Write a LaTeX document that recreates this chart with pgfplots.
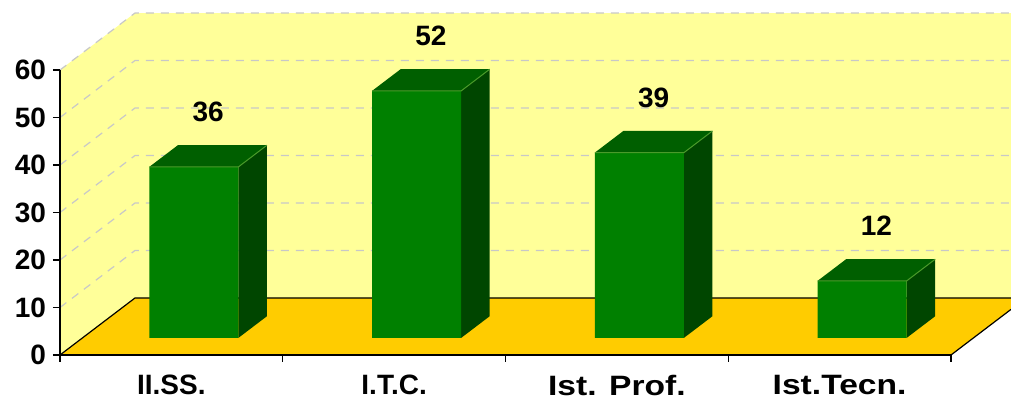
\documentclass[border=0pt]{standalone}
\usepackage{fontspec}
\setmainfont{Liberation Sans}
\usepackage{graphicx}
\usepackage{pgfplots}
\usepackage{pgfplotstable}
\pgfplotsset{compat=1.18}
\definecolor{wallc}{HTML}{FFFF99}
\definecolor{floorc}{HTML}{FFCC00}
\definecolor{barfront}{HTML}{008000}
\definecolor{bartop}{HTML}{005F00}
\definecolor{barside}{HTML}{004600}
\definecolor{barhi}{HTML}{4A9A2A}
\definecolor{gridc}{HTML}{C8C8C8}

\pgfplotstableread{
idx value
0 36
1 52
2 39
3 12
}\data

% depth offsets (category units, value units)
\def\fdx{0.101}\def\fdy{3.6}
\def\bdx{0.229}\def\bdy{8.16}

\newcommand\barfaces[1]{%
  \pgfplotstablegetelem{#1}{value}\of\data
  \pgfmathsetmacro\bval{\pgfplotsretval}%
  \pgfmathsetmacro\bxa{#1+0.3+\fdx}%
  \pgfmathsetmacro\bxb{#1+0.7+\fdx}%
  \pgfmathsetmacro\bxc{#1+0.3+\bdx}%
  \pgfmathsetmacro\bxd{#1+0.7+\bdx}%
  \pgfmathsetmacro\bya{\fdy}%
  \pgfmathsetmacro\byb{\bval+\fdy}%
  \pgfmathsetmacro\byc{\bdy}%
  \pgfmathsetmacro\byd{\bval+\bdy}%
  \edef\temp{%
    \noexpand\addplot[draw=none, fill=barside] coordinates {(\bxb,\bya) (\bxd,\byc) (\bxd,\byd) (\bxb,\byb) (\bxb,\bya)};
    \noexpand\addplot[draw=none, fill=bartop] coordinates {(\bxa,\byb) (\bxb,\byb) (\bxd,\byd) (\bxc,\byd) (\bxa,\byb)};
    \noexpand\addplot[draw=none, fill=barfront] coordinates {(\bxa,\bya) (\bxb,\bya) (\bxb,\byb) (\bxa,\byb) (\bxa,\bya)};
    \noexpand\addplot[barhi, line width=0.5pt] coordinates {(\bxa,\byb) (\bxb,\byb) (\bxd,\byd)};
  }%
  \temp
}

\begin{document}
\begin{tikzpicture}
\begin{axis}[
  scale only axis,
  width=445.5pt, height=142.5pt,
  xmin=0, xmax=4, ymin=0, ymax=60,
  clip=false,
  axis on top,
  axis lines*=left,
  axis line style={black, line width=0.6pt},
  tick align=outside,
  tick style={black, line width=0.6pt},
  major tick length=3.5pt,
  ytick={0,10,...,60},
  xtick={0,1,2,3,4},
  xticklabels={},
  extra x ticks={0.5,1.5,2.5,3.5},
  extra x tick labels={II.SS., I.T.C., \scalebox{1.2}[1]{Ist. Prof.}, \scalebox{1.2}[1]{Ist.Tecn.}},
  extra x tick style={major tick length=0pt, xticklabel style={yshift=-6.5pt}},
  xticklabel style={font=\bfseries\fontsize{14}{14}\selectfont},
  yticklabel style={font=\bfseries\fontsize{14}{14}\selectfont},
  /pgf/number format/assume math mode=true,
]
% walls and floor
\fill[wallc] (axis cs:0,0) -- (axis cs:0.3367,12) -- (axis cs:0.3367,72) -- (axis cs:0,60) -- cycle;
\fill[wallc] (axis cs:0.3367,12) -- (axis cs:4.2694,12) -- (axis cs:4.2694,72) -- (axis cs:0.3367,72) -- cycle;
\fill[floorc] (axis cs:0,0) -- (axis cs:4,0) -- (axis cs:4.2694,9.6) -- (axis cs:4.2694,12) -- (axis cs:0.3367,12) -- cycle;
\draw[black, line width=0.6pt] (axis cs:0,0) -- (axis cs:0.3367,12) -- (axis cs:4.2694,12);
\draw[black, line width=0.6pt] (axis cs:4,0) -- (axis cs:4.2694,9.6);
% gridlines
\draw[gridc, line width=0.6pt, dash pattern=on 4pt off 3.5pt] (axis cs:0,10) -- (axis cs:0.3367,22) -- (axis cs:4.2694,22);
\draw[gridc, line width=0.6pt, dash pattern=on 4pt off 3.5pt] (axis cs:0,20) -- (axis cs:0.3367,32) -- (axis cs:4.2694,32);
\draw[gridc, line width=0.6pt, dash pattern=on 4pt off 3.5pt] (axis cs:0,30) -- (axis cs:0.3367,42) -- (axis cs:4.2694,42);
\draw[gridc, line width=0.6pt, dash pattern=on 4pt off 3.5pt] (axis cs:0,40) -- (axis cs:0.3367,52) -- (axis cs:4.2694,52);
\draw[gridc, line width=0.6pt, dash pattern=on 4pt off 3.5pt] (axis cs:0,50) -- (axis cs:0.3367,62) -- (axis cs:4.2694,62);
\draw[gridc, line width=0.6pt, dash pattern=on 4pt off 3.5pt] (axis cs:0,60) -- (axis cs:0.3367,72) -- (axis cs:4.2694,72);
% bars
\barfaces{0}
\barfaces{1}
\barfaces{2}
\barfaces{3}
% value labels
\addplot[draw=none, mark=none, nodes near coords, point meta=explicit symbolic,
  every node near coord/.style={anchor=center, font=\bfseries\fontsize{14}{14}\selectfont, black}]
  table[x expr=\coordindex+0.665, y expr=\thisrow{value}+15.2, meta=value]{\data};
\coordinate (bbSW) at (axis cs:-0.26936,-9.8947);
\coordinate (bbNE) at (axis cs:4.26936,74.737);
\end{axis}
\pgfresetboundingbox
\path[use as bounding box] (bbSW) rectangle (bbNE);
\end{tikzpicture}
\end{document}
